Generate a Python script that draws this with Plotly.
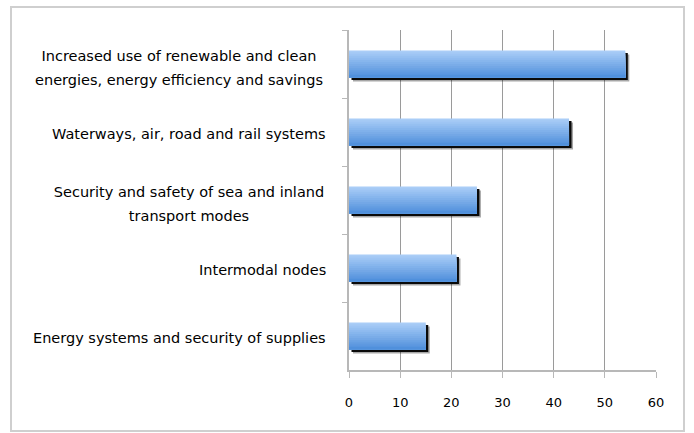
import plotly.graph_objects as go

categories = [
    "Increased use of renewable and clean<br>energies, energy efficiency and savings",
    "Waterways, air, road and rail systems",
    "Security and safety of sea and inland<br>transport modes",
    "Intermodal nodes",
    "Energy systems and security of supplies",
]
values = [54, 43, 25, 21, 15]
x_ticks = [0, 10, 20, 30, 40, 50, 60]

W, H = 694, 433
L, R, T, B = 349, 38, 30, 63
pw, ph = W - L - R, H - T - B
unit_x = 60 / pw          # data units per px
unit_y = len(categories) / ph  # category units per px

bar_w = 0.4
FONT = "DejaVu Sans"
LBL_SIZE = 14.5

fig = go.Figure()

# soft shadow
fig.add_trace(go.Bar(
    y=categories, x=values, orientation="h", base=[4 * unit_x] * len(values),
    width=bar_w, offset=-bar_w / 2 + 4 * unit_y,
    marker=dict(color="rgba(0,0,0,0.35)", line=dict(width=0)),
    hoverinfo="skip", showlegend=False))
fig.add_trace(go.Bar(
    y=categories, x=values, orientation="h", base=[2.5 * unit_x] * len(values),
    width=bar_w, offset=-bar_w / 2 + 2.5 * unit_y,
    marker=dict(color="#0a0a0a", line=dict(width=0)),
    hoverinfo="skip", showlegend=False))

# gradient (light top -> darker bottom), each layer runs to the bar's bottom edge
top = (170, 205, 247)
bot = (80, 144, 220)
N = 14
sw = bar_w / N
for k in range(N):
    t = k / (N - 1)
    c = tuple(int(round(top[i] + (bot[i] - top[i]) * t)) for i in range(3))
    fig.add_trace(go.Bar(
        y=categories, x=values, orientation="h",
        width=bar_w - k * sw, offset=-bar_w / 2 + k * sw,
        marker=dict(color="rgb(%d,%d,%d)" % c, line=dict(width=0)),
        hoverinfo="skip", showlegend=False))

# centered multi-line category labels (one annotation per line, wide line spacing)
RIGHT_PX = 328
LINE_GAP = 24.5
for cat in categories:
    lines = cat.split("<br>")
    if len(lines) == 1:
        fig.add_annotation(
            x=0, xref="paper", y=cat, yref="y", xanchor="right",
            xshift=RIGHT_PX - L, yshift=-2, text=cat, showarrow=False,
            font=dict(family=FONT, size=LBL_SIZE, color="#000000"))
    else:
        box_w = 294 if len(lines[0]) + len(lines[1]) > 60 else 274
        for j, ln in enumerate(lines):
            fig.add_annotation(
                x=0, xref="paper", y=cat, yref="y", xanchor="right",
                xshift=RIGHT_PX - L, width=box_w, align="center",
                yshift=(8.5 if j == 0 else 8.5 - LINE_GAP),
                text=ln, showarrow=False,
                font=dict(family=FONT, size=LBL_SIZE, color="#000000"))

# chart border
fig.add_shape(type="rect", xref="paper", yref="paper",
              x0=(11 - L) / pw, x1=(684 - L) / pw,
              y0=(H - B - 431) / ph, y1=(H - B - 7) / ph,
              line=dict(color="#cfcfcf", width=2), fillcolor="rgba(0,0,0,0)",
              layer="below")

fig.update_layout(
    width=W, height=H,
    margin=dict(l=L, r=R, t=T, b=B),
    barmode="overlay",
    paper_bgcolor="white", plot_bgcolor="white",
    showlegend=False,
    font=dict(family=FONT, size=13, color="#000000"),
    xaxis=dict(range=[0, 60], tickvals=x_ticks, ticktext=[str(v) for v in x_ticks],
               showgrid=True, gridcolor="#9a9a9a", gridwidth=1,
               showline=True, linecolor="#b8b8b8", linewidth=1.5,
               ticks="outside", ticklen=6, tickcolor="#b8b8b8",
               zeroline=False, fixedrange=True, ticklabelstandoff=14),
    yaxis=dict(autorange="reversed", type="category", showticklabels=False,
               showline=True, linecolor="#b8b8b8", linewidth=1.5,
               ticks="outside", ticklen=5, tickcolor="#b8b8b8",
               tickson="boundaries", showgrid=False, zeroline=False),
)

fig.write_html("out.html")
